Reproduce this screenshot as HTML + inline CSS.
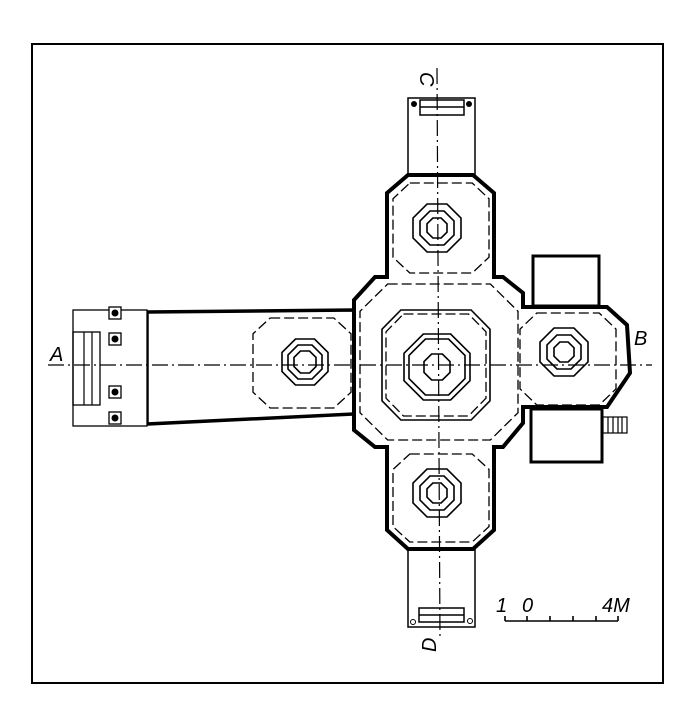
<!DOCTYPE html>
<html><head><meta charset="utf-8"><style>
html,body{margin:0;padding:0;background:#fff;}
svg{display:block}
text{font-family:"Liberation Sans",sans-serif;font-style:italic;fill:#000}
</style></head><body>
<svg width="681" height="711" viewBox="0 0 681 711" xmlns="http://www.w3.org/2000/svg">
<defs>
<polygon id="col" vector-effect="non-scaling-stroke" points="-0.414,-1 0.414,-1 1,-0.414 1,0.414 0.414,1 -0.414,1 -1,0.414 -1,-0.414"/>
<polygon id="room" vector-effect="non-scaling-stroke" points="-0.65,-1 0.65,-1 1,-0.65 1,0.65 0.65,1 -0.65,1 -1,0.65 -1,-0.65"/>
</defs>
<rect x="32" y="44" width="631" height="639" fill="none" stroke="#000" stroke-width="2"/>

<!-- top wing C -->
<rect x="408" y="98" width="67" height="80" fill="none" stroke="#000" stroke-width="1.5"/>
<rect x="420" y="100" width="44" height="15" fill="none" stroke="#000" stroke-width="1.5"/>
<line x1="420" y1="107" x2="464" y2="107" stroke="#000" stroke-width="1.5"/>
<circle cx="414" cy="104" r="3" fill="#000"/><circle cx="469" cy="104" r="3" fill="#000"/>

<!-- bottom wing D -->
<rect x="408" y="545" width="67" height="82" fill="none" stroke="#000" stroke-width="1.5"/>
<rect x="419" y="608" width="45" height="14" fill="none" stroke="#000" stroke-width="1.5"/>
<line x1="419" y1="615" x2="464" y2="615" stroke="#000" stroke-width="1.5"/>
<circle cx="413" cy="622" r="2.5" fill="none" stroke="#000"/><circle cx="470" cy="621" r="2.5" fill="none" stroke="#000"/>

<!-- left wing A -->
<polygon points="147,312 354,310 354,414 147,424" fill="#fff" stroke="#000" stroke-width="3.5"/>
<rect x="73" y="310" width="74" height="116" fill="#fff" stroke="#000" stroke-width="1.3"/>
<rect x="73" y="332" width="27" height="73" fill="none" stroke="#000" stroke-width="1.3"/>
<line x1="84" y1="332" x2="84" y2="405" stroke="#000" stroke-width="1.2"/>
<line x1="92" y1="332" x2="92" y2="405" stroke="#000" stroke-width="1.2"/>
<g fill="#fff" stroke="#000" stroke-width="1.3">
<rect x="109" y="307" width="12" height="12"/><rect x="109" y="333" width="12" height="12"/>
<rect x="109" y="386" width="12" height="12"/><rect x="109" y="412" width="12" height="12"/>
</g>
<g fill="#000"><circle cx="115" cy="313" r="3.5"/><circle cx="115" cy="339" r="3.5"/><circle cx="115" cy="392" r="3.5"/><circle cx="115" cy="418" r="3.5"/></g>

<!-- annex boxes -->
<rect x="533" y="256" width="66" height="50" fill="#fff" stroke="#000" stroke-width="3"/>
<rect x="531" y="409" width="71" height="53" fill="#fff" stroke="#000" stroke-width="3"/>
<rect x="603" y="417" width="24" height="16" fill="#fff" stroke="#000" stroke-width="1.2"/>
<g stroke="#000" stroke-width="1.2"><line x1="608" y1="417" x2="608" y2="433"/><line x1="613" y1="417" x2="613" y2="433"/><line x1="618" y1="417" x2="618" y2="433"/><line x1="622" y1="417" x2="622" y2="433"/></g>

<!-- main heavy outline -->
<polygon points="408,175 473,175 494,193 494,277 503,277 523,293 523,307 607,307 627,325 630,373 607,407 523,407 523,423 503,447 494,447 494,530 473,549 408,549 387,530 387,447 375,447 354,430 354,300 375,277 387,277 387,193"
 fill="#fff" stroke="#000" stroke-width="4" stroke-linejoin="miter"/>

<!-- dashed rooms -->
<g fill="none" stroke="#000" stroke-width="1.3" stroke-dasharray="10,4">
<use href="#room" transform="translate(441,228) scale(48,45)"/>
<use href="#room" transform="translate(439,362) scale(79,78)"/>
<use href="#room" transform="translate(568,359) scale(48,46)"/>
<use href="#room" transform="translate(302,363) scale(49,45)"/>
<use href="#room" transform="translate(441,498) scale(48,44)"/>
<use href="#room" transform="translate(436,365) scale(50,51)"/>
</g>
<g fill="none" stroke="#000" stroke-width="1.6">
<use href="#room" transform="translate(436,365) scale(54,55)"/>
</g>

<!-- columns -->
<g fill="none" stroke="#000" stroke-width="1.6">
<use href="#col" transform="translate(437,367) scale(33)"/>
<use href="#col" transform="translate(437,367) scale(28)"/>
<use href="#col" transform="translate(437,367) scale(13)"/>
<use href="#col" transform="translate(437,228) scale(24)"/>
<use href="#col" transform="translate(437,228) scale(17)"/>
<use href="#col" transform="translate(437,228) scale(10)"/>
<use href="#col" transform="translate(564,352) scale(24)"/>
<use href="#col" transform="translate(564,352) scale(17)"/>
<use href="#col" transform="translate(564,352) scale(10)"/>
<use href="#col" transform="translate(437,493) scale(24)"/>
<use href="#col" transform="translate(437,493) scale(17)"/>
<use href="#col" transform="translate(437,493) scale(10)"/>
<use href="#col" transform="translate(305,362) scale(23)"/>
<use href="#col" transform="translate(305,362) scale(17)"/>
<use href="#col" transform="translate(305,362) scale(11)"/>
</g>

<!-- axes -->
<g stroke="#000" stroke-width="1.2" stroke-dasharray="16,4,2,4" fill="none">
<line x1="48" y1="365" x2="652" y2="365"/>
<line x1="437" y1="68" x2="440" y2="640"/>
</g>

<!-- labels -->
<text x="50" y="361" font-size="20">A</text>
<text x="634" y="345" font-size="20">B</text>
<text transform="translate(420,72) rotate(90)" font-size="20">C</text>
<text transform="translate(436,652) rotate(-90)" font-size="20">D</text>

<!-- scale -->
<text x="496" y="612" font-size="20">1</text>
<text x="522" y="612" font-size="20">0</text>
<text x="602" y="612" font-size="20">4M</text>
<g stroke="#000" stroke-width="1.6">
<line x1="505" y1="621" x2="618" y2="621"/>
<line x1="505" y1="621" x2="505" y2="616"/>
<line x1="527" y1="621" x2="527" y2="616"/>
<line x1="550" y1="621" x2="550" y2="616"/>
<line x1="573" y1="621" x2="573" y2="616"/>
<line x1="596" y1="621" x2="596" y2="616"/>
<line x1="618" y1="621" x2="618" y2="616"/>
</g>
</svg>
</body></html>
